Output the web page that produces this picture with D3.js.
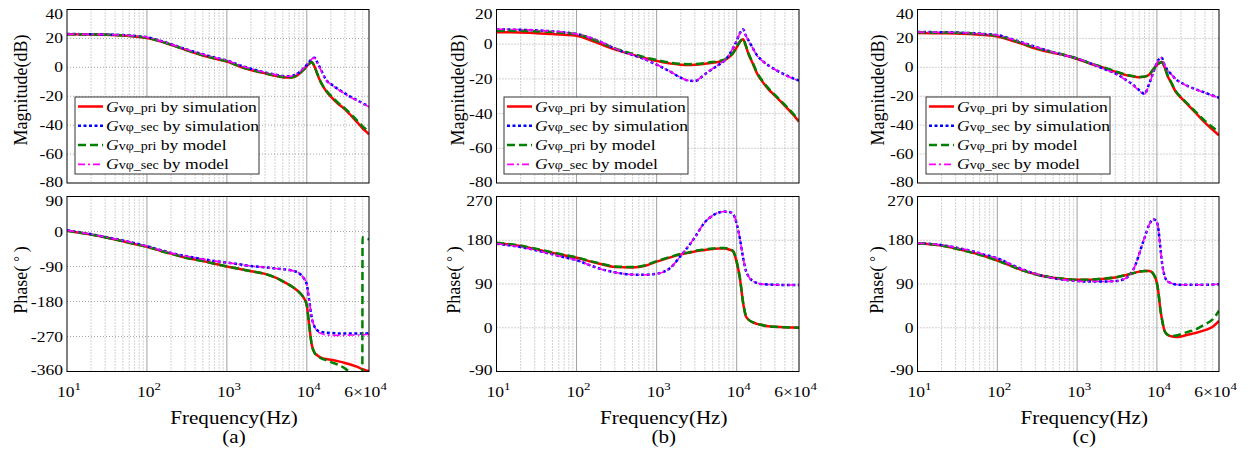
<!DOCTYPE html>
<html><head><meta charset="utf-8">
<script src="https://cdn.jsdelivr.net/npm/d3@7"></script>
<style>
body{margin:0;background:#fff}
svg{display:block}
svg text{font-family:"Liberation Serif","Times New Roman",serif;fill:#000}
</style>
</head><body>
<svg id="c" width="1250" height="463"></svg>
<script>
// ---------------- DATA ----------------
const freqA = [10, 20, 30, 50, 70, 100, 150, 200, 300, 500, 700, 1000, 1500, 2000, 3000, 4000, 5000, 6000, 7000, 8000, 9000, 10000, 10700, 11500, 12500, 13500, 15000, 17500, 20000, 25000, 30000, 35000, 40000, 45000, 49500, 49800, 55000, 60000];
const magPriSimA = [22.8, 22.7, 22.5, 22.0, 21.4, 20.3, 17.8, 15.6, 12.2, 8.2, 6.0, 4.0, 0.2, -1.8, -4.2, -5.8, -6.8, -7.1, -6.5, -4.6, -2.0, 0.8, 2.4, 3.7, 0.5, -4.5, -10.5, -16.5, -20.2, -25.5, -29.0, -32.8, -36.3, -39.4, -42.0, -42.2, -44.3, -46.3];
const magSecSimA = [23.0, 22.9, 22.7, 22.3, 21.7, 20.8, 18.2, 16.0, 12.7, 9.0, 6.8, 4.8, 1.2, -1.0, -3.5, -5.0, -6.0, -6.2, -5.5, -3.5, -1.0, 1.7, 3.7, 5.8, 6.7, 3.5, -1.5, -8.8, -11.5, -15.3, -18.0, -20.3, -22.0, -23.5, -24.7, -24.8, -26.0, -27.0];
const magPriModA = [22.9, 22.8, 22.6, 22.1, 21.5, 20.4, 17.9, 15.7, 12.3, 8.4, 6.2, 4.2, 0.4, -1.6, -4.0, -5.7, -6.7, -7.0, -6.4, -4.5, -2.0, 0.8, 2.4, 3.6, 0.6, -4.3, -10.2, -16.0, -19.6, -24.8, -28.4, -32.0, -35.2, -38.2, -40.5, -40.7, -42.8, -44.6];
const magSecModA = [23.0, 22.9, 22.7, 22.3, 21.7, 20.8, 18.2, 16.0, 12.7, 9.0, 6.8, 4.8, 1.2, -1.0, -3.5, -5.0, -6.0, -6.2, -5.5, -3.5, -1.0, 1.7, 3.7, 5.7, 6.5, 3.3, -1.8, -9.0, -11.8, -15.6, -18.3, -20.6, -22.3, -23.8, -25.0, -25.1, -26.3, -27.3];
const phPriSimA = [2, -8, -15, -25, -32, -39, -50, -57, -67, -76, -83, -90, -97, -102, -109, -118, -128, -137, -146, -156, -168, -190, -240, -290, -312, -318, -324, -328, -330, -334, -338, -342, -346, -350, -354, -354, -357, -359];
const phSecSimA = [3, -7, -14, -23, -30, -38, -48, -55, -63, -71, -76, -80, -85, -89, -92, -95, -97, -99, -102, -107, -118, -136, -176, -220, -245, -254, -258, -260, -261, -262, -262, -262, -262, -262, -262, -262, -262, -261];
const phPriModA = [2, -8, -15, -25, -32, -39, -50, -57, -67, -76, -83, -90, -97, -102, -109, -118, -128, -137, -146, -156, -168, -190, -240, -290, -312, -319, -326, -331, -336, -343, -352, -362, -367, -370, -373, -15, -18, -20];
const phSecModA = [3, -7, -14, -23, -30, -38, -48, -55, -63, -71, -76, -80, -85, -89, -92, -95, -97, -99, -102, -107, -118, -136, -176, -220, -245, -256, -262, -266, -267, -267, -267, -266, -266, -266, -266, -266, -265, -265];

const freqB = [10, 20, 30, 50, 70, 100, 150, 200, 300, 500, 700, 1000, 1500, 2000, 2500, 3000, 4000, 5000, 6000, 7000, 8000, 9000, 10000, 11000, 12000, 13000, 14000, 16000, 18000, 20000, 25000, 30000, 40000, 50000, 60000];
const magPriSimB = [6.9, 6.7, 6.4, 5.9, 5.4, 4.8, 2.2, 0.0, -3.0, -6.0, -8.0, -9.6, -11.2, -11.8, -12.0, -11.9, -11.3, -10.7, -10.1, -9.3, -7.6, -5.2, -1.8, 1.5, 2.9, -1.0, -5.5, -11.5, -17.0, -20.3, -26.0, -29.7, -35.5, -40.3, -44.6];
const magSecSimB = [8.5, 8.3, 8.0, 7.4, 6.8, 5.8, 3.6, 1.3, -2.5, -6.2, -8.5, -11.8, -16.0, -19.3, -21.0, -21.2, -17.3, -14.2, -11.8, -9.6, -6.3, -2.3, 2.0, 6.5, 8.6, 5.0, 2.3, -2.5, -6.5, -8.7, -12.3, -14.5, -17.6, -19.6, -21.0];
const magPriModB = [7.8, 7.7, 7.5, 7.0, 6.5, 5.8, 3.2, 1.0, -2.4, -5.5, -7.5, -9.1, -10.7, -11.3, -11.5, -11.4, -10.9, -10.3, -9.7, -8.9, -7.3, -5.0, -1.6, 1.6, 3.0, -0.8, -5.2, -11.0, -16.5, -19.8, -25.5, -29.2, -35.0, -39.7, -44.0];
const magSecModB = [8.6, 8.4, 8.1, 7.5, 6.9, 5.9, 3.7, 1.4, -2.4, -6.1, -8.4, -11.7, -15.9, -19.2, -20.9, -21.1, -17.2, -14.1, -11.7, -9.5, -6.2, -2.2, 2.1, 6.4, 8.4, 4.9, 2.2, -2.6, -6.6, -8.8, -12.4, -14.6, -17.7, -19.7, -21.1];
const phPriSimB = [174, 168, 162, 154, 149, 144, 136, 131, 125, 124, 127, 136, 145, 151, 154, 157, 160, 162, 163, 163, 161, 157, 135, 100, 52, 24, 17, 11, 8, 6, 3, 2, 1, 0.5, 0];
const phSecSimB = [173, 166, 160, 151, 145, 139, 128, 121, 114, 109.5, 109, 111, 124, 148, 168, 186, 217, 231, 237, 239, 238, 234, 214, 182, 145, 118, 106, 96, 92, 90, 89, 88.5, 88, 88, 88];
const phPriModB = [175, 169, 163, 155, 150, 145, 137, 132, 126, 125, 128, 137, 146, 152, 155, 158, 161, 163, 164, 164, 162, 158, 136, 101, 53, 25, 17, 11, 8, 6, 3, 2, 1, 0.5, 0];
const phSecModB = [173, 166, 160, 151, 145, 139, 128, 121, 114, 109.5, 109, 111, 124, 148, 168, 186, 217, 231, 237, 239, 238, 234, 214, 182, 145, 118, 106, 96, 92, 90, 89, 88.5, 88, 88, 88];

const freqC = [10, 20, 30, 50, 70, 100, 150, 200, 300, 500, 700, 1000, 1500, 2000, 3000, 4000, 5000, 5500, 6000, 7000, 8000, 9000, 10000, 10500, 11000, 11500, 12500, 13500, 15000, 17500, 20000, 25000, 30000, 40000, 50000, 60000];
const magPriSimC = [23.7, 23.6, 23.4, 22.9, 22.3, 21.3, 18.6, 16.4, 13.0, 10.0, 8.3, 5.8, 2.3, 0.3, -3.0, -5.2, -6.3, -6.7, -6.9, -6.6, -5.0, -1.5, 1.5, 2.6, 3.3, 3.7, 0.0, -5.5, -10.5, -17.5, -21.0, -26.5, -31.0, -38.2, -43.2, -47.0];
const magSecSimC = [24.4, 24.3, 24.1, 23.6, 23.0, 22.3, 19.6, 17.4, 14.2, 10.5, 8.4, 6.1, 2.6, -0.3, -4.2, -8.3, -12.0, -14.0, -15.8, -18.3, -11.5, -3.5, 3.0, 5.3, 6.5, 6.6, 1.5, -1.8, -4.5, -8.5, -10.5, -13.3, -15.0, -17.5, -19.5, -21.0];
const magPriModC = [24.2, 24.1, 23.9, 23.4, 22.8, 21.8, 19.1, 16.9, 13.5, 10.4, 8.6, 6.1, 2.6, 0.6, -2.7, -4.9, -6.0, -6.4, -6.6, -6.3, -4.8, -1.4, 1.5, 2.6, 3.3, 3.6, 0.3, -5.0, -10.0, -17.0, -20.5, -26.0, -30.3, -37.0, -41.5, -44.8];
const magSecModC = [24.4, 24.3, 24.1, 23.6, 23.0, 22.3, 19.6, 17.4, 14.2, 10.5, 8.4, 6.1, 2.6, -0.3, -4.2, -8.4, -12.2, -14.3, -16.2, -18.6, -11.8, -3.7, 2.9, 5.2, 6.4, 6.5, 1.4, -1.9, -4.6, -8.6, -10.6, -13.4, -15.1, -17.6, -19.6, -21.1];
const phPriSimC = [174, 169, 163, 154, 147, 138, 127, 119, 110, 103, 100.5, 98.5, 99, 100.5, 103.5, 108, 112, 114, 115.5, 117, 117, 111, 92, 70, 40, 20, -7, -14, -17.5, -19, -18, -14, -11, -5, 2, 14];
const phSecSimC = [174, 170, 165, 157, 150, 143, 130, 121, 111, 102, 98.5, 96, 95, 95, 96, 101, 118, 133, 152, 185, 212, 223, 218, 200, 168, 138, 106, 96, 92, 89, 88.5, 88.5, 88.5, 88.5, 89, 89.5];
const phPriModC = [174, 169, 163, 154, 147, 138, 127, 119, 110, 103, 100.5, 98.5, 99, 100.5, 103.5, 108, 112, 114, 115.5, 117, 117, 111, 92, 70, 40, 20, -7, -14, -17, -16, -13, -8, -4, 7, 17, 35];
const phSecModC = [174, 170, 165, 157, 150, 143, 130, 121, 111, 102, 98.5, 96, 95, 95, 96, 101, 118, 133, 152, 185, 212, 223, 218, 200, 168, 138, 106, 96, 92, 89, 88.5, 88.5, 88.5, 88.5, 89, 89.5];

const magTicksAC = [40, 20, 0, -20, -40, -60, -80];
const magTicksB = [20, 0, -20, -40, -60, -80];
const phTicksA = [90, 0, -90, -180, -270, -360];
const phTicksBC = [270, 180, 90, 0, -90];
const xTickVals = [10, 100, 1000, 10000, 60000];
const xTickBase = ['10', '10', '10', '10', '6×10'];
const xTickExp = ['1', '2', '3', '4', '4'];
const seriesNames = ['pri', 'sec', 'pri', 'sec'];
const seriesKinds = ['by simulation', 'by simulation', 'by model', 'by model'];
const panelLabels = ['(a)', '(b)', '(c)'];

// ---------------- LAYOUT ----------------
const panels = [
  {f: freqA, mag: [magPriSimA, magSecSimA, magPriModA, magSecModA], ph: [phPriSimA, phSecSimA, phPriModA, phSecModA],
   xr: [67, 369], magTicks: magTicksAC, phTicks: phTicksA, legX: 75, magLabX: 27, phLabX: 27},
  {f: freqB, mag: [magPriSimB, magSecSimB, magPriModB, magSecModB], ph: [phPriSimB, phSecSimB, phPriModB, phSecModB],
   xr: [496.5, 799], magTicks: magTicksB, phTicks: phTicksBC, legX: 504, magLabX: 464, phLabX: 460},
  {f: freqC, mag: [magPriSimC, magSecSimC, magPriModC, magSecModC], ph: [phPriSimC, phSecSimC, phPriModC, phSecModC],
   xr: [917.5, 1219], magTicks: magTicksAC, phTicks: phTicksBC, legX: 926, magLabX: 884, phLabX: 883}
];
const magY = [9.5, 183], phY = [196.5, 371.5];
const SX = 1.17;
const FONT = "'Liberation Serif','Times New Roman',serif";
const styles = [
  {color: '#ff0000', w: 2.5, dash: null},
  {color: '#0000ff', w: 2.5, dash: '3,2.5'},
  {color: '#008000', w: 2.5, dash: '8,4'},
  {color: '#ff00ff', w: 1.6, dash: '7,3,2,3'}
];

const svg = d3.select('#c');
const defs = svg.append('defs');

function stxt(parent, x, y, anchor, size) {
  return parent.append('g').attr('transform', `translate(${x},${y}) scale(${SX},1)`)
    .append('text').attr('font-family', FONT).attr('text-anchor', anchor).attr('font-size', size);
}

function drawPlot(P, x, yr, ticks, series, id) {
  const y = d3.scaleLinear().domain([d3.min(ticks), d3.max(ticks)]).range([yr[1], yr[0]]);
  const g = svg.append('g');
  defs.append('clipPath').attr('id', id).append('rect')
    .attr('x', P.xr[0]).attr('y', yr[0]).attr('width', P.xr[1] - P.xr[0]).attr('height', yr[1] - yr[0]);
  const minor = [];
  [10, 100, 1000, 10000].forEach(d => { for (let k = 2; k <= 9; k++) { if (k * d < 60000) minor.push(k * d); } });
  g.append('g').selectAll('line').data(minor).join('line')
    .attr('x1', d => x(d)).attr('x2', d => x(d)).attr('y1', yr[0]).attr('y2', yr[1])
    .attr('stroke', '#a6a6a6').attr('stroke-width', 1).attr('stroke-dasharray', '1,2');
  g.append('g').selectAll('line').data([100, 1000, 10000]).join('line')
    .attr('x1', d => x(d)).attr('x2', d => x(d)).attr('y1', yr[0]).attr('y2', yr[1])
    .attr('stroke', '#a0a0a0').attr('stroke-width', 1);
  g.append('g').selectAll('line').data(ticks.slice(1, -1)).join('line')
    .attr('x1', P.xr[0]).attr('x2', P.xr[1]).attr('y1', d => y(d)).attr('y2', d => y(d))
    .attr('stroke', '#a6a6a6').attr('stroke-width', 1).attr('stroke-dasharray', '1,2');
  const line = d3.line().x(d => x(d[0])).y(d => y(d[1])).curve(d3.curveMonotoneX);
  const cg = g.append('g').attr('clip-path', `url(#${id})`);
  series.forEach((vals, i) => {
    const s = styles[i];
    cg.append('path').datum(P.f.map((f, j) => [f, vals[j]]))
      .attr('d', line).attr('fill', 'none').attr('stroke', s.color)
      .attr('stroke-width', s.w).attr('stroke-dasharray', s.dash);
  });
  g.append('rect').attr('x', P.xr[0]).attr('y', yr[0]).attr('width', P.xr[1] - P.xr[0]).attr('height', yr[1] - yr[0])
    .attr('fill', 'none').attr('stroke', '#000').attr('stroke-width', 1);
  const top = d3.max(ticks), bot = d3.min(ticks);
  ticks.forEach(t => {
    const dy = t === top ? 9 : (t === bot ? 3.5 : 5);
    stxt(svg, P.xr[0] - 4, y(t) + dy, 'end', 15).text(t);
  });
  return y;
}

panels.forEach((P, pi) => {
  const x = d3.scaleLog().domain([10, 60000]).range(P.xr);
  drawPlot(P, x, magY, P.magTicks, P.mag, 'cm' + pi);
  drawPlot(P, x, phY, P.phTicks, P.ph, 'cp' + pi);

  // x tick labels
  xTickVals.forEach((v, i) => {
    const off = i === 4 ? -3.5 : 2;
    const t = stxt(svg, x(v) + off, 397, 'middle', 15);
    t.append('tspan').text(xTickBase[i]);
    t.append('tspan').attr('font-size', 11).attr('dy', -7).text(xTickExp[i]);
  });
  const cx = (P.xr[0] + P.xr[1]) / 2 + 16;
  stxt(svg, cx, 424, 'middle', 18).text('Frequency(Hz)');
  stxt(svg, cx, 443, 'middle', 18).text(panelLabels[pi]);

  // y labels
  svg.append('text').attr('font-family', FONT).attr('transform', `translate(${P.magLabX},90) rotate(-90)`)
    .attr('text-anchor', 'middle').attr('font-size', 18).text('Magnitude(dB)');
  const pt = svg.append('text').attr('font-family', FONT).attr('transform', `translate(${P.phLabX},280) rotate(-90)`)
    .attr('text-anchor', 'middle').attr('font-size', 18);
  pt.append('tspan').text('Phase(');
  pt.append('tspan').attr('dx', 4).attr('font-size', 14).attr('dy', -3).text('°');
  pt.append('tspan').attr('dx', 4).attr('dy', 3).text(')');

  // legend
  const lg = svg.append('g').attr('transform', `translate(${P.legX},97)`);
  lg.append('rect').attr('width', 184).attr('height', 77).attr('fill', '#fff').attr('stroke', '#333').attr('stroke-width', 1);
  seriesNames.forEach((nm, i) => {
    const yy = 9.5 + i * 19.3;
    const s = styles[i];
    lg.append('line').attr('x1', 3).attr('x2', 28).attr('y1', yy).attr('y2', yy)
      .attr('stroke', s.color).attr('stroke-width', s.w).attr('stroke-dasharray', s.dash);
    const t = stxt(lg, 31, yy + 5, 'start', 15);
    t.append('tspan').attr('font-style', 'italic').text('G');
    t.append('tspan').attr('font-size', 12).text('vφ_' + nm);
    t.append('tspan').text(' ' + seriesKinds[i]);
  });
});
</script>
</body></html>
